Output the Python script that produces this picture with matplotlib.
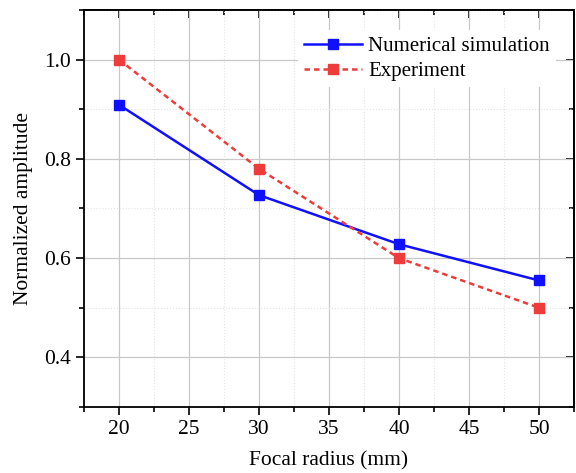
import matplotlib
matplotlib.use("Agg")
import matplotlib.pyplot as plt
from matplotlib.ticker import MultipleLocator

focal_radius = [20, 30, 40, 50]
numerical = [0.909, 0.727, 0.628, 0.555]
experiment = [1.0, 0.78, 0.60, 0.50]
x_ticks = [20, 25, 30, 35, 40, 45, 50]
y_ticks = [0.4, 0.6, 0.8, 1.0]
y_ticklabels = ['0.4', '0.6', '0.8', '1.0']

plt.rcParams['font.family'] = ['Liberation Serif', 'DejaVu Serif']

fig = plt.figure(figsize=(5.76, 4.73), dpi=100)
ax = fig.add_axes([84/576, 1 - 407/473, (574-84)/576, (407-10)/473])

ax.plot(focal_radius, numerical, '-', color='#1010ff', lw=1.8, marker='s', ms=7,
        label='Numerical simulation', zorder=3)
ax.plot(focal_radius, experiment, '--', color='#ee3b3b', lw=1.8, marker='s', ms=7,
        label='Experiment', zorder=3, dashes=(2.2, 1.6))

ax.set_xlim(17.5, 52.5)
ax.set_ylim(0.3, 1.1)
ax.set_xticks(x_ticks)
ax.xaxis.set_minor_locator(MultipleLocator(2.5))
ax.set_yticks(y_ticks)
ax.set_yticklabels(y_ticklabels)
ax.yaxis.set_minor_locator(MultipleLocator(0.1))

ax.grid(True, which='major', color='#c8c8c8', lw=0.9)
ax.grid(True, which='minor', color='#e4e4e4', lw=0.8, ls=':')
ax.set_axisbelow(True)

ax.tick_params(which='both', direction='out', labelsize=15.5, width=1.2,
               top=False, right=False)
ax.tick_params(which='major', length=6)
ax.tick_params(which='minor', length=3.5)

for s in ax.spines.values():
    s.set_linewidth(1.3)

ax.set_xlabel('Focal radius (mm)', fontsize=15.5, labelpad=9)
ax.set_ylabel('Normalized amplitude', fontsize=15.5, labelpad=8)

leg = ax.legend(loc='upper right', bbox_to_anchor=(0.985, 0.975), fontsize=15,
                frameon=True, framealpha=1.0, edgecolor='none', fancybox=False,
                handlelength=2.8, borderpad=0.3, labelspacing=0.25, handletextpad=0.3)

sec_x = ax.secondary_xaxis('top')
sec_x.set_xticks(x_ticks)
sec_x.xaxis.set_minor_locator(MultipleLocator(2.5))
sec_x.tick_params(which='both', direction='in', labeltop=False, width=1.2)
sec_x.tick_params(which='major', length=6)
sec_x.tick_params(which='minor', length=3.5)
sec_x.spines['top'].set_linewidth(1.3)

sec_y = ax.secondary_yaxis('right')
sec_y.set_yticks(y_ticks)
sec_y.yaxis.set_minor_locator(MultipleLocator(0.1))
sec_y.tick_params(which='both', direction='in', labelright=False, width=1.2)
sec_y.tick_params(which='major', length=6)
sec_y.tick_params(which='minor', length=3.5)
sec_y.spines['right'].set_linewidth(1.3)

fig.savefig('out.png', dpi=100)
